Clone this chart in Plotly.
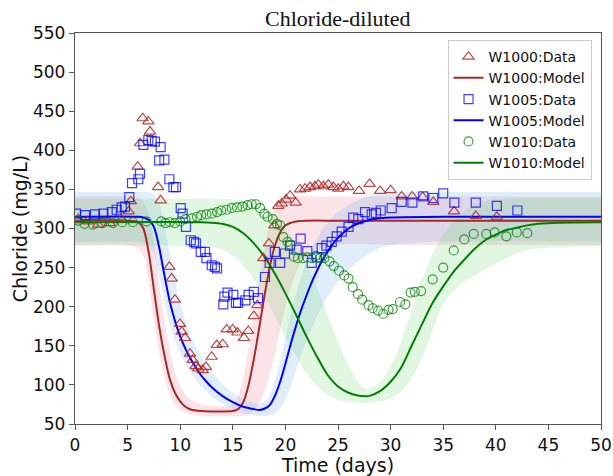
import plotly.graph_objects as go

# ---------------- observed concentrations ----------------
w1000_t = [0.3, 1.2, 2.2, 3.3, 4.4, 5.1, 5.3, 5.96, 6.18, 6.43, 6.97, 7.13, 7.9, 8.14, 8.97, 9.19, 9.5,
           9.98, 10.14, 10.46, 10.93, 11.19, 11.47, 11.72, 12.14, 12.45, 12.99, 13.47, 14.04, 14.42,
           14.99, 15.43, 16.06, 16.47, 17.0, 17.33, 17.9, 18.44, 18.95, 19.33, 19.65, 20.06, 20.44,
           20.98, 21.39, 21.86, 22.34, 22.81, 23.13, 23.61, 24.08, 24.56, 25.03, 25.51, 25.98, 27.0,
           28.0, 29.0, 30.0, 31.05, 32.05, 33.05, 34.06, 36.03, 38.1, 40.1]
w1000_c = [312, 309, 305, 307, 312, 322, 335, 379, 409, 441, 437, 424, 353, 336, 251, 236, 209,
           178, 168, 160, 140, 132, 124, 121, 119, 123, 136, 151, 152, 171,
           171, 167, 160, 169, 188, 202, 262, 281, 304, 329, 332, 337, 342,
           333, 350, 351, 353, 354, 356, 354, 356, 353, 351, 354, 353, 348,
           357, 348, 349, 341, 341, 340, 334, 322, 316, 315]

w1005_t = [0.1, 0.95, 1.9, 2.7, 3.5, 3.96, 4.44, 4.75, 5.16, 5.42, 6.02, 6.18, 6.5, 6.97, 7.29, 7.6,
           8.0, 8.14, 8.5, 8.97, 9.35, 9.6, 10.05, 10.23, 10.55, 11.0, 11.31, 11.5, 11.95, 12.36,
           12.5, 13.0, 13.3, 13.5, 14.1, 14.2, 14.5, 15.05, 15.3, 15.5, 16.2, 16.5, 17.0, 17.4,
           18.06, 18.5, 19.0, 19.5, 19.96, 20.44, 21.07, 21.45, 22.08, 22.5, 23.0, 23.45, 23.9,
           24.4, 24.87, 25.35, 26.0, 26.45, 26.93, 27.57, 28.2, 28.6, 29.06, 30.1, 31.05, 32.07,
           33.1, 34.06, 35.0, 36.06, 38.1, 40.1, 42.05]
w1005_c = [319, 317, 318, 319, 321, 324, 327, 328, 340, 358, 363, 370, 407, 413, 412, 411,
           387, 404, 388, 363, 353, 353, 326, 319, 302, 285, 283, 281, 270, 270,
           262, 253, 251, 249, 203, 213, 218, 215, 205, 205, 208, 215, 219, 211,
           238, 256, 270, 256, 268, 278, 273, 287, 271, 256, 263, 275, 278,
           283, 290, 296, 302, 314, 312, 321, 318, 320, 323, 326, 334, 333,
           341, 339, 345, 333, 333, 329, 323]

w1010_t = [0.3, 0.9, 1.7, 2.6, 3.6, 4.5, 5.5, 6.8, 8.2, 8.6, 9.0, 9.5, 10.0, 10.5, 11.1, 11.6, 12.0,
           12.5, 13.0, 13.5, 13.9, 14.4, 14.9, 15.4, 15.9, 16.4, 16.8, 17.2, 17.6, 18.0, 18.3, 18.8,
           19.2, 19.5, 19.8, 20.2, 20.5, 20.8, 21.2, 21.7, 22.1, 22.5, 22.9, 23.3, 23.7, 24.2, 24.6,
           25.1, 25.6, 26.0, 26.4, 26.9, 27.3, 27.9, 28.3, 28.8, 29.3, 29.8, 30.2, 30.9, 31.4, 31.9,
           32.3, 32.9, 34.0, 35.0, 36.0, 37.0, 37.9, 39.1, 39.9, 41.0, 42.0, 43.0]
w1010_c = [310, 306, 305, 307, 307, 308, 308, 309, 309, 307, 308, 307, 309, 312, 313, 315, 317,
           318, 319, 321, 323, 324, 326, 327, 328, 330, 331, 331, 326, 319, 315, 312,
           306, 304, 289, 283, 279, 264, 262, 262, 263, 262, 265, 262, 262, 258, 252,
           246, 240, 236, 225, 216, 209, 202, 198, 195, 191, 196, 197, 206, 203, 218,
           219, 220, 235, 250, 272, 286, 293, 293, 295, 290, 295, 294]

# ---------------- model curves with uncertainty envelopes ----------------
m1000_t = [0, 5, 6, 6.5, 7, 7.5, 8, 8.5, 9, 9.5, 10, 10.5, 11, 12, 13, 14, 15, 15.5, 16, 16.5,
           17, 17.5, 18, 18.5, 19, 19.5, 20, 21, 22, 25, 30, 40, 50]
m1000_c = [310, 310, 308, 300, 270, 222, 175, 138, 108, 90, 79, 72, 68.5, 66.5, 66, 66, 66.5, 69, 78, 100,
           133, 172, 213, 250, 278, 295, 304, 309, 310, 310, 310, 310, 310]
m1000_hi = [341, 341, 340, 334, 318, 285, 232, 182, 145, 117, 99, 88, 81, 75, 73, 73, 75, 86, 110, 146,
            189, 234, 275, 306, 324, 334, 339, 341, 341, 341, 341, 341, 341]
m1000_lo = [279, 279, 274, 265, 232, 183, 142, 110, 88, 75, 68, 64, 62, 60, 59.5, 59.5, 59.5, 59.5, 60, 62,
            67, 77, 92, 113, 140, 170, 200, 243, 265, 279, 279, 279, 279]

m1005_t = [0, 6, 6.5, 7, 7.5, 8, 8.5, 9, 9.5, 10, 10.5, 11, 11.5, 12, 12.5, 13, 14, 15, 16, 17,
           17.5, 18, 18.5, 19, 19.5, 20, 20.5, 21, 21.5, 22, 22.5, 23, 23.5, 24, 24.5, 25, 26, 27, 28, 29,
           30, 35, 50]
m1005_c = [315, 315, 314, 311, 302, 276, 240, 207, 182, 162, 146, 133, 122, 112, 104, 97, 86, 78, 72, 69,
           68, 69.5, 74, 86, 104, 127, 152, 175, 196, 214, 231, 246, 259, 270, 280, 288, 300, 307, 311, 313,
           314, 315, 315]
m1005_hi = [347, 347, 347, 346, 343, 333, 305, 268, 234, 205, 182, 163, 149, 137, 126, 117, 101, 90, 82, 77,
            76, 78, 86, 104, 130, 160, 190, 216, 238, 257, 273, 287, 298, 307, 315, 321, 330, 337, 342, 345,
            346, 347, 347]
m1005_lo = [283, 283, 282, 278, 268, 240, 207, 178, 157, 140, 127, 116, 106, 98, 91, 85, 76, 69, 64, 61,
            60, 60, 61, 63, 70, 82, 98, 118, 138, 156, 172, 187, 201, 213, 223, 232, 247, 259, 268, 275,
            279, 283, 283]

m1010_t = [0, 12, 13, 14, 15, 16, 17, 18, 19, 20, 21, 22, 23, 24, 25, 26, 27, 27.5, 28, 29,
           30, 31, 32, 33, 34, 35, 36, 37, 38, 39, 40, 41, 42, 43, 44, 46, 50]
m1010_c = [308, 308, 307.5, 306, 302, 294, 281, 264, 242, 217, 190, 162, 136, 113, 98, 90, 86, 85.5, 86, 92,
           104, 122, 150, 178, 205, 226, 245, 260, 274, 285, 292, 298, 301, 304, 306, 307.5, 308]
m1010_hi = [338, 338, 338, 338, 337, 335, 331, 325, 315, 300, 280, 255, 225, 190, 155, 125, 102, 96, 95, 104,
            124, 155, 195, 235, 268, 292, 310, 322, 330, 335, 337, 338, 338.5, 339, 339, 339, 339]
m1010_lo = [278, 278, 277, 273, 265, 252, 235, 213, 188, 162, 137, 115, 98, 87, 81, 78, 77, 77, 77, 79,
            83, 92, 108, 135, 170, 203, 220, 232, 240, 248, 255, 262, 268, 272, 274, 276, 277]

series = [
    dict(name="W1000", obs_t=w1000_t, obs_c=w1000_c, mod_t=m1000_t, mod_c=m1000_c,
         hi=m1000_hi, lo=m1000_lo, symbol="triangle-up-open", msize=10,
         mcolor="rgba(178,40,40,0.85)", lcolor="#a52a2a", band="rgba(225,70,100,0.15)"),
    dict(name="W1005", obs_t=w1005_t, obs_c=w1005_c, mod_t=m1005_t, mod_c=m1005_c,
         hi=m1005_hi, lo=m1005_lo, symbol="square-open", msize=9,
         mcolor="rgba(0,0,255,0.75)", lcolor="#0000ff", band="rgba(100,170,240,0.2)"),
    dict(name="W1010", obs_t=w1010_t, obs_c=w1010_c, mod_t=m1010_t, mod_c=m1010_c,
         hi=m1010_hi, lo=m1010_lo, symbol="circle-open", msize=9,
         mcolor="rgba(0,128,0,0.75)", lcolor="#008000", band="rgba(110,215,110,0.2)"),
]

fig = go.Figure()

# shaded envelopes first
for s in series:
    fig.add_trace(go.Scatter(x=s["mod_t"], y=s["lo"], mode="lines", line=dict(width=0, shape="spline", smoothing=0.8),
                             showlegend=False, hoverinfo="skip"))
    fig.add_trace(go.Scatter(x=s["mod_t"], y=s["hi"], mode="lines", line=dict(width=0, shape="spline", smoothing=0.8),
                             fill="tonexty", fillcolor=s["band"], showlegend=False, hoverinfo="skip"))

# model lines
for i, s in enumerate(series):
    fig.add_trace(go.Scatter(x=s["mod_t"], y=s["mod_c"], mode="lines", name=f"{s['name']}:Model",
                             line=dict(color=s["lcolor"], width=2, shape="spline", smoothing=0.8),
                             legendrank=2 * i + 2))

# observations on top
for i, s in enumerate(series):
    fig.add_trace(go.Scatter(x=s["obs_t"], y=s["obs_c"], mode="markers", name=f"{s['name']}:Data",
                             marker=dict(symbol=s["symbol"], size=s["msize"], color=s["mcolor"],
                                         line=dict(width=1.2, color=s["mcolor"])),
                             legendrank=2 * i + 1))

axis_common = dict(showline=True, mirror=True, linecolor="#555", linewidth=1.3, ticks="outside",
                   ticklen=5, tickcolor="#555", showgrid=False, zeroline=False, automargin=False,
                   tickfont=dict(family="DejaVu Sans", size=17, color="#111"))

fig.update_layout(
    width=613, height=476,
    margin=dict(l=75, r=12, t=33, b=52),
    paper_bgcolor="white", plot_bgcolor="white",
    title=dict(text="Chloride-diluted", x=0.551, xanchor="center", y=0.962, yanchor="middle",
               font=dict(family="Liberation Serif", size=22, color="#111")),
    xaxis=dict(range=[0, 50], tickmode="array", tickvals=list(range(0, 51, 5)),
               title=dict(text="Time (days)", standoff=0, font=dict(family="DejaVu Sans", size=19, color="#111")),
               **axis_common),
    yaxis=dict(range=[50, 550], tickmode="array", tickvals=list(range(50, 551, 50)),
               title=dict(text="Chloride (mg/L)", standoff=0, font=dict(family="DejaVu Sans", size=19, color="#111")),
               **axis_common),
    legend=dict(x=0.982, y=0.982, xanchor="right", yanchor="top", bgcolor="rgba(255,255,255,0.85)",
                bordercolor="#cccccc", borderwidth=1, font=dict(family="DejaVu Sans", size=14, color="#111"),
                traceorder="normal"),
)

fig.write_html("out.html")
